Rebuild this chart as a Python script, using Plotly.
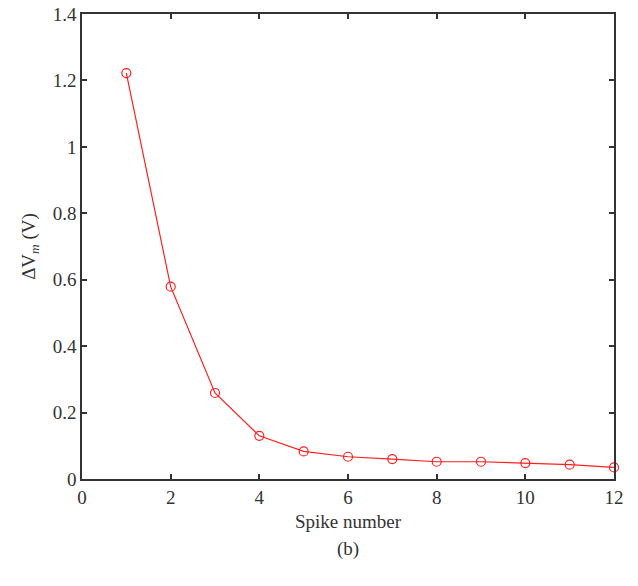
import plotly.graph_objects as go

spike_number = [1, 2, 3, 4, 5, 6, 7, 8, 9, 10, 11, 12]
delta_vm = [1.222, 0.579, 0.259, 0.130, 0.083, 0.067, 0.060, 0.052, 0.052, 0.048, 0.043, 0.035]

x_ticks = [0, 2, 4, 6, 8, 10, 12]
y_ticks = [0, 0.2, 0.4, 0.6, 0.8, 1, 1.2, 1.4]
y_tick_labels = ["0", "0.2", "0.4", "0.6", "0.8", "1", "1.2", "1.4"]

font_family = "Liberation Serif, DejaVu Serif, serif"

fig = go.Figure()
fig.add_trace(go.Scatter(
    x=spike_number, y=delta_vm, mode="lines+markers",
    line=dict(color="#ff2020", width=1.2),
    marker=dict(symbol="circle-open", size=9, color="#ff2020", line=dict(width=1.2)),
    showlegend=False, cliponaxis=False,
))

axis_common = dict(
    showline=True, linecolor="#333333", linewidth=1.5, mirror="ticks",
    ticks="inside", ticklen=5, tickcolor="#333333", tickwidth=1.5,
    showgrid=False, zeroline=False, automargin=False,
    ticklabeloverflow="allow",
    tickfont=dict(family=font_family, size=19, color="#333333"),
)

fig.update_layout(
    width=638, height=586,
    margin=dict(l=74, r=32, t=6, b=115, autoexpand=False),
    paper_bgcolor="white", plot_bgcolor="white",
    font=dict(family=font_family, color="#333333"),
    xaxis=dict(range=[0, 12], tickvals=x_ticks,
               title=dict(text="Spike number", font=dict(family=font_family, size=19, color="#333333"), standoff=8),
               **axis_common),
    yaxis=dict(range=[0, 1.4], tickvals=y_ticks, ticktext=y_tick_labels,
               title=dict(text="ΔV<sub><i>m</i></sub> (V)", font=dict(family=font_family, size=19, color="#333333"), standoff=12),
               **axis_common),
    annotations=[dict(text="(b)", x=0.5, y=0, xref="paper", yref="paper",
                      xanchor="center", yanchor="top", yshift=-57, showarrow=False,
                      font=dict(family=font_family, size=19, color="#333333"))],
)

fig.write_html("out.html")
